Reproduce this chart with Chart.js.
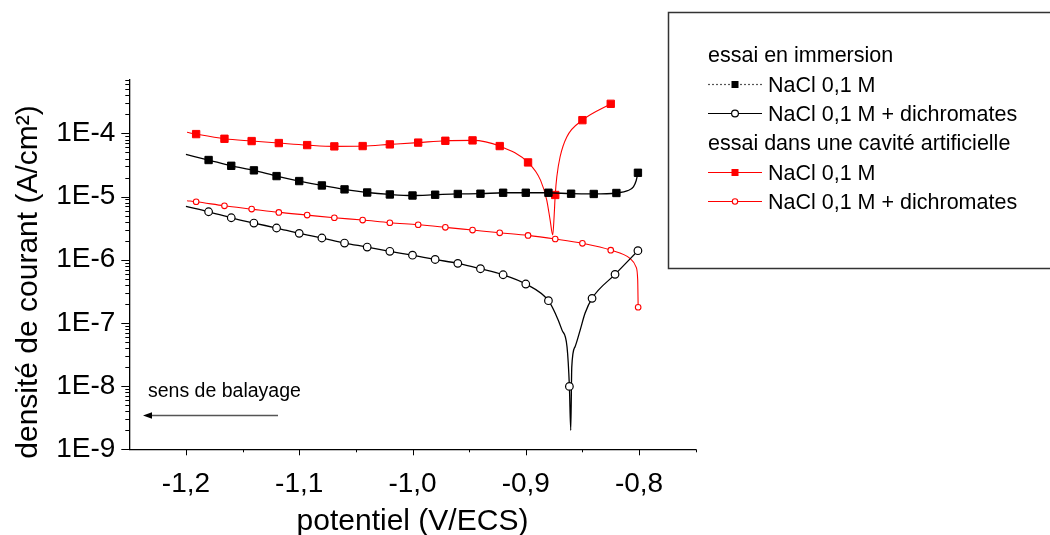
<!DOCTYPE html>
<html>
<head>
<meta charset="utf-8">
<script src="https://cdn.jsdelivr.net/npm/chart.js@4.4.0/dist/chart.umd.min.js"></script>
<style>
  html, body { margin:0; padding:0; background:#fff; }
</style>
</head>
<body>
<canvas id="myChart" width="1050" height="535"></canvas>
<script>
//! values (potentiel V/ECS, densité A/cm2)
const xTicks = [-1.2, -1.1, -1.0, -0.9, -0.8];
const yTicks = [1e-9, 1e-8, 1e-7, 1e-6, 1e-5, 1e-4];
const xMin = -1.25, xMax = -0.75;
const yMin = 1e-9, yMax = 7e-4;

// essai en immersion - NaCl 0,1 M
const immNaClX = [-1.20, -1.18, -1.16, -1.14, -1.12, -1.10, -1.08, -1.06, -1.04, -1.02, -1.00,
                  -0.98, -0.96, -0.94, -0.92, -0.90, -0.88, -0.86, -0.84, -0.82, -0.81, -0.805, -0.8025, -0.801];
const immNaClY = [4.65e-5, 3.79e-5, 3.07e-5, 2.60e-5, 2.11e-5, 1.76e-5, 1.50e-5, 1.30e-5, 1.16e-5, 1.08e-5, 1.04e-5,
                  1.07e-5, 1.10e-5, 1.11e-5, 1.15e-5, 1.15e-5, 1.15e-5, 1.11e-5, 1.10e-5, 1.14e-5, 1.24e-5, 1.43e-5, 1.80e-5, 2.38e-5];
const immNaClMark = [0,1,1,1,1,1,1,1,1,1,1, 1,1,1,1,1,1,1,1,1,0,0,0,1];

// essai en immersion - NaCl 0,1 M + dichromates
const immDichroX = [-1.20, -1.18, -1.16, -1.14, -1.12, -1.10, -1.08, -1.06, -1.04, -1.02, -1.00,
                    -0.98, -0.96, -0.94, -0.92, -0.90, -0.88, -0.874, -0.868, -0.8636, -0.8615, -0.8603,
                    -0.8594, -0.8565, -0.852, -0.8477, -0.8415, -0.8212, -0.801];
const immDichroY = [7.0e-6, 5.75e-6, 4.62e-6, 3.81e-6, 3.18e-6, 2.62e-6, 2.21e-6, 1.84e-6, 1.59e-6, 1.36e-6, 1.18e-6,
                    1.01e-6, 8.77e-7, 7.21e-7, 5.79e-7, 4.13e-7, 2.25e-7, 1.42e-7, 7.7e-8, 4.2e-8, 9.9e-9, 2.0e-9,
                    2.0e-8, 4.2e-8, 7.7e-8, 1.42e-7, 2.45e-7, 5.87e-7, 1.39e-6];
const immDichroMark = [0,1,1,1,1,1,1,1,1,1,1, 1,1,1,1,1,1,0,0,0,1,0, 0,0,0,0,1,1,1];

// essai dans une cavité artificielle - NaCl 0,1 M
const cavNaClX = [-1.199, -1.191, -1.166, -1.142, -1.118, -1.093, -1.069, -1.044, -1.020, -0.995, -0.971, -0.947,
                  -0.923, -0.898, -0.887, -0.8815, -0.8785, -0.8762, -0.875, -0.874, -0.8726, -0.8697, -0.8638, -0.850, -0.825];
const cavNaClY = [1.04e-4, 9.75e-5, 8.22e-5, 7.56e-5, 7.03e-5, 6.53e-5, 6.23e-5, 6.30e-5, 6.70e-5, 7.15e-5, 7.64e-5, 7.75e-5,
                  6.30e-5, 3.47e-5, 1.82e-5, 8.8e-6, 4.25e-6, 2.46e-6, 4.8e-6, 1.06e-5, 2.06e-5, 4.27e-5, 8.8e-5, 1.62e-4, 2.94e-4];
const cavNaClMark = [0,1,1,1,1,1,1,1,1,1,1,1, 1,1,0,0,0,0,0,1,0,0,0,1,1];

// essai dans une cavité artificielle - NaCl 0,1 M + dichromates
const cavDichroX = [-1.199, -1.191, -1.166, -1.142, -1.118, -1.093, -1.069, -1.044, -1.020, -0.995, -0.971,
                    -0.947, -0.923, -0.898, -0.874, -0.850, -0.825, -0.808, -0.8027, -0.8012, -0.8008];
const cavDichroY = [8.6e-6, 8.28e-6, 7.15e-6, 6.34e-6, 5.62e-6, 5.09e-6, 4.62e-6, 4.25e-6, 3.85e-6, 3.58e-6, 3.26e-6,
                    2.95e-6, 2.67e-6, 2.43e-6, 2.13e-6, 1.82e-6, 1.42e-6, 1.05e-6, 7.7e-7, 4.8e-7, 1.77e-7];
const cavDichroMark = [0,1,1,1,1,1,1,1,1,1,1, 1,1,1,1,1,1,0,0,0,1];

const FONT = "Arial, 'Liberation Sans', sans-serif";

function makeSeries(label, xs, ys, marks, color, style, radius, fill, width, bw){
    return {
        label: label,
        data: xs.map((x, i) => ({x: x, y: ys[i]})),
        borderColor: color,
        borderWidth: width,
        pointStyle: style,
        pointRadius: ctx => marks[ctx.dataIndex] ? radius : 0,
        pointBackgroundColor: fill,
        pointBorderColor: color,
        pointBorderWidth: bw,
        cubicInterpolationMode: 'monotone',
        fill: false
    };
}

//! legend, ticks, titles and annotation drawn over the chart
const extras = {
    id: 'extras',
    afterDraw(chart){
        const c = chart.ctx;
        const xs = chart.scales.x, ys = chart.scales.y;
        const area = chart.chartArea;
        c.save();
        c.strokeStyle = '#000';
        c.lineWidth = 1;
        function seg(x1, y1, x2, y2){ c.beginPath(); c.moveTo(x1, y1); c.lineTo(x2, y2); c.stroke(); }
        // y ticks (log minor + major)
        for(let d = -9; d <= -4; d++){
            for(let m = 1; m <= 9; m++){
                const v = m * Math.pow(10, d);
                if(v > yMax * 1.0001) break;
                const py = Math.round(ys.getPixelForValue(v)) + 0.5;
                seg(area.left - (m === 1 ? 8 : 4), py, area.left, py);
            }
        }
        // x ticks
        for(const t of xTicks){
            const px = Math.round(xs.getPixelForValue(t)) + 0.5;
            seg(px, area.bottom, px, area.bottom + 6);
            const pm = Math.round(xs.getPixelForValue(t + 0.05)) + 0.5;
            seg(pm, area.bottom, pm, area.bottom + 3);
        }
        // y title
        c.fillStyle = '#000';
        c.font = '30px ' + FONT;
        c.save();
        c.translate(37, 282);
        c.rotate(-Math.PI / 2);
        c.textAlign = 'center';
        c.textBaseline = 'alphabetic';
        c.fillText('densité de courant (A/cm²)', 0, 0);
        c.restore();
        // sens de balayage
        c.font = '19.5px ' + FONT;
        c.textAlign = 'left';
        c.fillText('sens de balayage', 148, 397);
        c.strokeStyle = '#555';
        c.lineWidth = 1.3;
        seg(150, 415.5, 278, 415.5);
        c.fillStyle = '#000';
        c.beginPath(); c.moveTo(143, 415.5); c.lineTo(152, 412.3); c.lineTo(152, 418.7); c.closePath(); c.fill();
        // legend box
        c.strokeStyle = '#333';
        c.lineWidth = 1.5;
        c.strokeRect(668.5, 12.5, 420, 256);
        c.font = '21.5px ' + FONT;
        c.fillStyle = '#000';
        c.fillText('essai en immersion', 708, 62);
        c.fillText('essai dans une cavité artificielle', 708, 150.3);
        const rows = [
            {ds: 0, base: 91.5, line: '#555', dash: [2, 2]},
            {ds: 1, base: 121, line: '#000', dash: []},
            {ds: 2, base: 179.7, line: '#f00', dash: []},
            {ds: 3, base: 209, line: '#f00', dash: []}
        ];
        for(const r of rows){
            const ds = chart.data.datasets[r.ds];
            const ly = Math.round(r.base - 8) + 0.5;
            c.strokeStyle = r.line;
            c.lineWidth = 1.2;
            c.setLineDash(r.dash);
            seg(708, ly, 762, ly);
            c.setLineDash([]);
            c.lineWidth = ds.pointBorderWidth;
            c.strokeStyle = ds.pointBorderColor;
            c.fillStyle = ds.pointBackgroundColor;
            if(ds.pointStyle === 'rect'){
                c.fillRect(731.5, ly - 3.5, 7, 7);
            } else {
                const rr = r.ds === 1 ? 3.4 : 2.7;
                c.beginPath(); c.arc(735, ly, rr, 0, Math.PI * 2); c.fill(); c.stroke();
            }
            c.fillStyle = '#000';
            c.fillText(ds.label, 768, r.base);
        }
        c.restore();
    }
};

const ctx = document.getElementById('myChart');
const myChart = new Chart(ctx, {
    type: 'line',
    data: {
        datasets: [
            makeSeries('NaCl 0,1 M', immNaClX, immNaClY, immNaClMark, '#000', 'rect', 5.2, '#000', 1.3, 1),
            makeSeries('NaCl 0,1 M + dichromates', immDichroX, immDichroY, immDichroMark, '#000', 'circle', 3.8, '#fff', 1.3, 1.2),
            makeSeries('NaCl 0,1 M', cavNaClX, cavNaClY, cavNaClMark, '#f00', 'rect', 5.2, '#f00', 1.1, 1),
            makeSeries('NaCl 0,1 M + dichromates', cavDichroX, cavDichroY, cavDichroMark, '#f00', 'circle', 2.8, '#fff', 1.1, 1.1)
        ]
    },
    options: {
        responsive: false,
        animation: false,
        devicePixelRatio: 1,
        events: [],
        layout: { padding: { left: 0, top: 80, right: 354.3, bottom: 0 } },
        plugins: { legend: { display: false }, tooltip: { enabled: false } },
        scales: {
            x: {
                type: 'linear',
                min: xMin, max: xMax,
                afterBuildTicks: s => { s.ticks = xTicks.map(v => ({value: v})); },
                afterFit: s => { s.height = 85.7; },
                grid: { display: false, drawTicks: false },
                border: { display: true, color: '#000', width: 1.3 },
                ticks: {
                    autoSkip: false, maxRotation: 0, padding: 18, color: '#000',
                    font: { family: FONT, size: 28 },
                    callback: v => v.toFixed(1).replace('.', ',')
                },
                title: {
                    display: true, text: 'potentiel (V/ECS)', color: '#000',
                    font: { family: FONT, size: 30 }, padding: { top: 0, bottom: -5 }
                }
            },
            y: {
                type: 'logarithmic',
                min: yMin, max: yMax,
                afterBuildTicks: s => { s.ticks = yTicks.map(v => ({value: v})); },
                afterFit: s => { s.width = 129.3; },
                grid: { display: false, drawTicks: false },
                border: { display: true, color: '#000', width: 1.3 },
                ticks: {
                    autoSkip: false, padding: 14, color: '#000',
                    font: { family: FONT, size: 28 },
                    callback: v => '1E' + Math.round(Math.log10(v))
                }
            }
        }
    },
    plugins: [extras]
});
</script>
</body>
</html>
